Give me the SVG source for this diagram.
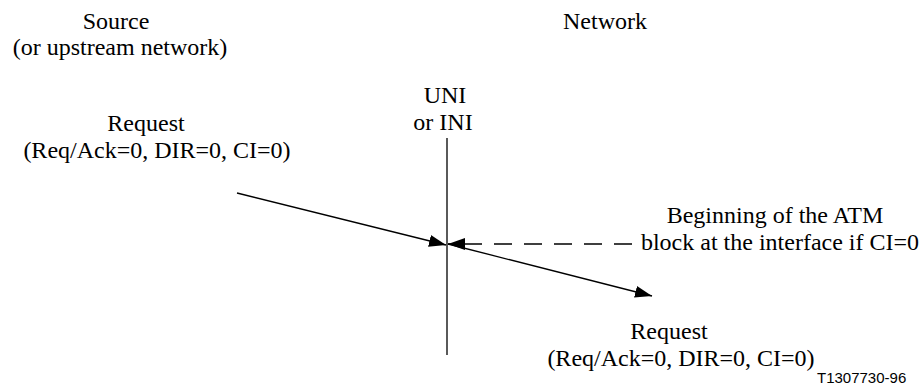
<svg xmlns="http://www.w3.org/2000/svg" width="920" height="385" viewBox="0 0 920 385">
<defs>
<marker id="ah" markerWidth="17" markerHeight="12" refX="17" refY="6" orient="auto" markerUnits="userSpaceOnUse">
<path d="M0,0 L17,6 L0,12 Z" fill="#000"/>
</marker>
</defs>
<rect width="920" height="385" fill="#fff"/>
<g id="source">
<text x="116" y="29" font-family="Liberation Serif, serif" font-size="24" text-anchor="middle">Source</text>
<text x="120" y="55" font-family="Liberation Serif, serif" font-size="24" text-anchor="middle">(or upstream network)</text>
</g>
<g id="network">
<text x="605" y="29" font-family="Liberation Serif, serif" font-size="24" text-anchor="middle">Network</text>
</g>
<g id="interface">
<text x="445" y="103" font-family="Liberation Serif, serif" font-size="24" text-anchor="middle">UNI</text>
<text x="443" y="130" font-family="Liberation Serif, serif" font-size="24" text-anchor="middle">or INI</text>
<line x1="447" y1="138" x2="447" y2="355" stroke="#000" stroke-width="1.3"/>
</g>
<g id="request-in">
<text x="146" y="131" font-family="Liberation Serif, serif" font-size="24" text-anchor="middle">Request</text>
<text x="157" y="158" font-family="Liberation Serif, serif" font-size="24" text-anchor="middle">(Req/Ack=0, DIR=0, CI=0)</text>
</g>
<g id="note">
<text x="775" y="223" font-family="Liberation Serif, serif" font-size="24" text-anchor="middle">Beginning of the ATM</text>
<text x="780" y="250" font-family="Liberation Serif, serif" font-size="24" text-anchor="middle">block at the interface if CI=0</text>
</g>
<g id="request-out">
<text x="669" y="339" font-family="Liberation Serif, serif" font-size="24" text-anchor="middle">Request</text>
<text x="681" y="366" font-family="Liberation Serif, serif" font-size="24" text-anchor="middle">(Req/Ack=0, DIR=0, CI=0)</text>
</g>
<g id="figure-id">
<text x="817" y="383" font-family="Liberation Sans, sans-serif" font-size="15">T1307730-96</text>
</g>
<g id="connectors" stroke="#000" stroke-width="1.3" fill="none">
<line x1="237" y1="193" x2="446" y2="245" marker-end="url(#ah)"/>
<line x1="448" y1="244" x2="652" y2="296" marker-end="url(#ah)"/>
<line x1="632" y1="244" x2="448" y2="244" stroke-dasharray="18,12" marker-end="url(#ah)"/>
</g>
</svg>
